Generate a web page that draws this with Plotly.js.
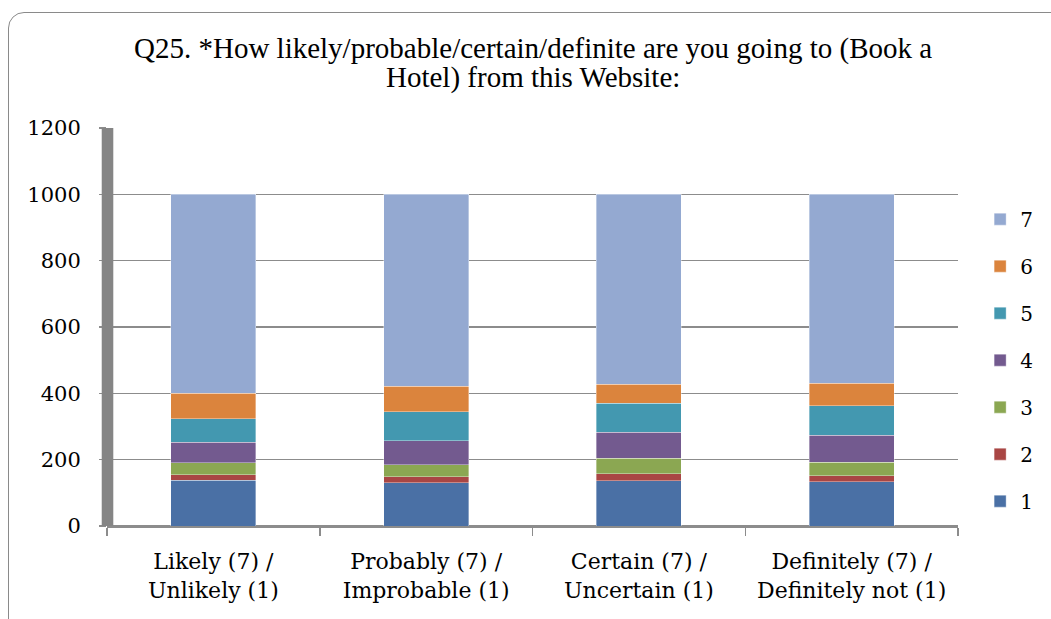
<!DOCTYPE html>
<html>
<head>
<meta charset="utf-8">
<script src="https://cdn.plot.ly/plotly-3.0.1.min.js"></script>
<style>
  html, body { margin: 0; padding: 0; background: #ffffff; width: 1051px; height: 619px; overflow: hidden; }
  #frame { position: absolute; left: 8px; top: 12px; width: 1100px; height: 700px;
           border: 1.5px solid #8a8a8a; border-radius: 16px; box-sizing: border-box; }
  #chart { position: absolute; left: 0; top: 0; width: 1051px; height: 619px; }
</style>
</head>
<body>
<div id="frame"></div>
<div id="chart"></div>
<script>
// Answer pairs shown on the x axis
const categories = [
  "Likely (7) /<br>Unlikely (1)",
  "Probably (7) /<br>Improbable (1)",
  "Certain (7) /<br>Uncertain (1)",
  "Definitely (7) /<br>Definitely not (1)"
];

// Number of responses per scale point (1 = lowest, 7 = highest)
const score1 = [138, 130, 136, 134];
const score2 = [16, 18, 21, 18];
const score3 = [36, 36, 48, 40];
const score4 = [63, 73, 77, 82];
const score5 = [71, 88, 88, 88];
const score6 = [77, 77, 58, 68];
const score7 = [599, 578, 572, 570];

const seriesNames = ["1", "2", "3", "4", "5", "6", "7"];
const seriesValues = [score1, score2, score3, score4, score5, score6, score7];
const seriesColors = ["#4a70a5", "#a94644", "#8ba752", "#735a8f", "#4398b0", "#db843d", "#94a9d1"];

const yTicks = [0, 200, 400, 600, 800, 1000, 1200];

// Chart heading, one entry per line (set tight, so each line is placed on its own)
const titleLines = [
  "Q25. *How likely/probable/certain/definite are you going to (Book a",
  "Hotel) from this Website:"
];

const traces = seriesValues.map((vals, i) => ({
  type: "bar",
  name: seriesNames[i],
  legendgroup: "g" + seriesNames[i],
  legendrank: 1000 - i,          // highest score listed first
  x: categories,
  y: vals,
  marker: { color: seriesColors[i], line: { color: "rgba(255,255,255,0.45)", width: 0.8 } },
  hoverinfo: "name+y"
}));

const gridGray = "#8c8c8c";
const titleFont = { family: "Liberation Serif, Times New Roman, serif", size: 29, color: "#000000" };
const titleLineY = [48, 77];   // line centres, px from the top of the page

const layout = {
  width: 1051,
  height: 619,
  paper_bgcolor: "rgba(0,0,0,0)",
  plot_bgcolor: "rgba(0,0,0,0)",
  margin: { l: 107, r: 93, t: 128, b: 93, autoexpand: false },
  barmode: "stack",
  bargap: 0.6,
  annotations: titleLines.map((line, k) => ({
    text: line,
    xref: "paper",
    x: 0.5,
    xanchor: "center",
    yref: "paper",
    y: (619 - 93 - titleLineY[k]) / (619 - 128 - 93),
    yanchor: "middle",
    showarrow: false,
    font: titleFont
  })),
  xaxis: {
    type: "category",
    range: [-0.5, 3.5],
    showgrid: false,
    showline: true,
    linecolor: gridGray,
    linewidth: 1.5,
    ticks: "outside",
    tickson: "boundaries",
    ticklen: 8,
    tickwidth: 1.5,
    tickcolor: gridGray,
    tickfont: { family: "DejaVu Serif, serif", size: 22, color: "#000000" },
    ticklabelstandoff: 15,
    zeroline: false,
    fixedrange: true
  },
  yaxis: {
    range: [0, 1200],
    tickvals: yTicks,
    ticktext: yTicks.map(String),
    showgrid: true,
    gridcolor: gridGray,
    gridwidth: 1.5,
    zeroline: true,
    zerolinecolor: gridGray,
    zerolinewidth: 1.5,
    showline: false,
    ticks: "outside",
    ticklen: 7,
    tickwidth: 1.5,
    tickcolor: gridGray,
    tickfont: { family: "DejaVu Serif, serif", size: 21, color: "#000000" },
    ticklabelstandoff: 14,
    fixedrange: true
  },
  shapes: [
    // side wall drawn as a thick vertical band along the value axis
    { type: "rect", xref: "paper", yref: "y", x0: -0.0062, x1: 0.0074, y0: 0, y1: 1200,
      fillcolor: "#858585", line: { width: 0 }, layer: "above" }
  ],
  legend: {
    traceorder: "grouped",
    tracegroupgap: 18,
    x: 1.026,
    xanchor: "left",
    y: 0.82,
    yanchor: "top",
    font: { family: "DejaVu Serif, serif", size: 20, color: "#000000" },
    bgcolor: "rgba(0,0,0,0)",
    itemclick: false,
    itemdoubleclick: false
  },
  showlegend: true
};

Plotly.newPlot("chart", traces, layout, { displayModeBar: false, staticPlot: true });
</script>
</body>
</html>
